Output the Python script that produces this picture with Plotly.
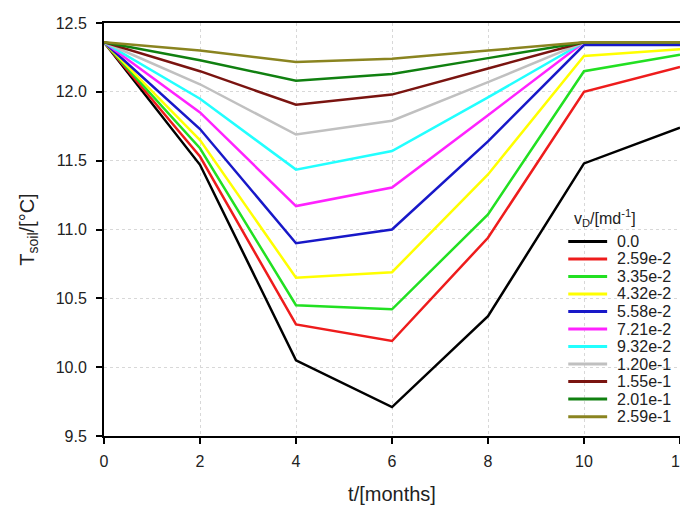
import plotly.graph_objects as go

months = [0, 2, 4, 6, 8, 10, 12]

v_labels = ["0.0", "2.59e-2", "3.35e-2", "4.32e-2", "5.58e-2", "7.21e-2",
            "9.32e-2", "1.20e-1", "1.55e-1", "2.01e-1", "2.59e-1"]

t_v0000 = [12.36, 11.47, 10.05, 9.71, 10.37, 11.48, 11.74]
t_v0259 = [12.36, 11.53, 10.31, 10.19, 10.94, 12.00, 12.18]
t_v0335 = [12.36, 11.59, 10.45, 10.42, 11.11, 12.15, 12.27]
t_v0432 = [12.36, 11.65, 10.65, 10.69, 11.40, 12.26, 12.31]
t_v0558 = [12.36, 11.73, 10.90, 11.00, 11.64, 12.34, 12.34]
t_v0721 = [12.36, 11.85, 11.17, 11.305, 11.83, 12.36, 12.36]
t_v0932 = [12.36, 11.95, 11.435, 11.57, 11.96, 12.36, 12.36]
t_v1200 = [12.36, 12.055, 11.69, 11.79, 12.07, 12.36, 12.36]
t_v1550 = [12.36, 12.15, 11.906, 11.98, 12.17, 12.36, 12.36]
t_v2010 = [12.36, 12.23, 12.08, 12.13, 12.245, 12.36, 12.36]
t_v2590 = [12.36, 12.30, 12.217, 12.24, 12.30, 12.36, 12.36]

series = [t_v0000, t_v0259, t_v0335, t_v0432, t_v0558, t_v0721,
          t_v0932, t_v1200, t_v1550, t_v2010, t_v2590]

colors = ["#000000", "#ee1c1c", "#22e022", "#ffff00", "#1818c8", "#ff22ff",
          "#22ffff", "#c0c0c0", "#7a1410", "#108010", "#8a8420"]

FONT = "Liberation Sans, Arial, sans-serif"

fig = go.Figure()
for lab, ys, col in zip(v_labels, series, colors):
    fig.add_trace(go.Scatter(x=months, y=ys, mode="lines", name=lab,
                             line=dict(color=col, width=2.5),
                             showlegend=False))

# manual legend (tight spacing like the original)
x0, x1, xt = 0.806, 0.8735, 0.887
top_px, step_px = 240.0, 17.65
plot_top, plot_h = 20.0, 416.0
for i, (lab, col) in enumerate(zip(v_labels, colors)):
    ypx = top_px + step_px * i
    yp = 1 - (ypx - plot_top) / plot_h
    fig.add_shape(type="line", xref="paper", yref="paper",
                  x0=x0, x1=x1, y0=yp, y1=yp,
                  line=dict(color=col, width=3))
    fig.add_annotation(xref="paper", yref="paper", x=xt, y=yp, text=lab,
                       showarrow=False, xanchor="left", yanchor="middle",
                       font=dict(family=FONT, size=16, color="#222222"))
fig.add_annotation(xref="paper", yref="paper", x=0.869,
                   y=1 - (216 - plot_top) / plot_h,
                   text="v<sub>D</sub>/[md<sup>-1</sup>]", showarrow=False,
                   xanchor="center", yanchor="middle",
                   font=dict(family=FONT, size=16, color="#222222"))

fig.update_layout(
    width=688, height=506,
    margin=dict(l=96, r=7, t=12, b=78),
    paper_bgcolor="white", plot_bgcolor="white",
    font=dict(family=FONT, size=16, color="#222222"),
)
fig.update_xaxes(
    range=[0, 12], tickvals=[0, 2, 4, 6, 8, 10, 12],
    showline=True, linecolor="black", linewidth=2, mirror=True,
    ticks="outside", ticklen=6, tickwidth=2, tickcolor="black",
    showgrid=True, gridcolor="#d8d8d8", griddash="dot", gridwidth=1,
    zeroline=False, ticklabelstandoff=4,
    title=dict(text="t/[months]", font=dict(size=20), standoff=18),
)
fig.update_yaxes(
    range=[9.5, 12.5], tickvals=[9.5, 10.0, 10.5, 11.0, 11.5, 12.0, 12.5],
    tickformat=".1f",
    showline=True, linecolor="black", linewidth=2, mirror=True,
    ticks="outside", ticklen=6, tickwidth=2, tickcolor="black",
    showgrid=True, gridcolor="#d8d8d8", griddash="dot", gridwidth=1,
    zeroline=False, ticklabelstandoff=6,
    title=dict(text="T<sub>soil</sub>/[°C]", font=dict(size=20), standoff=16),
)

fig.write_html("out.html")
